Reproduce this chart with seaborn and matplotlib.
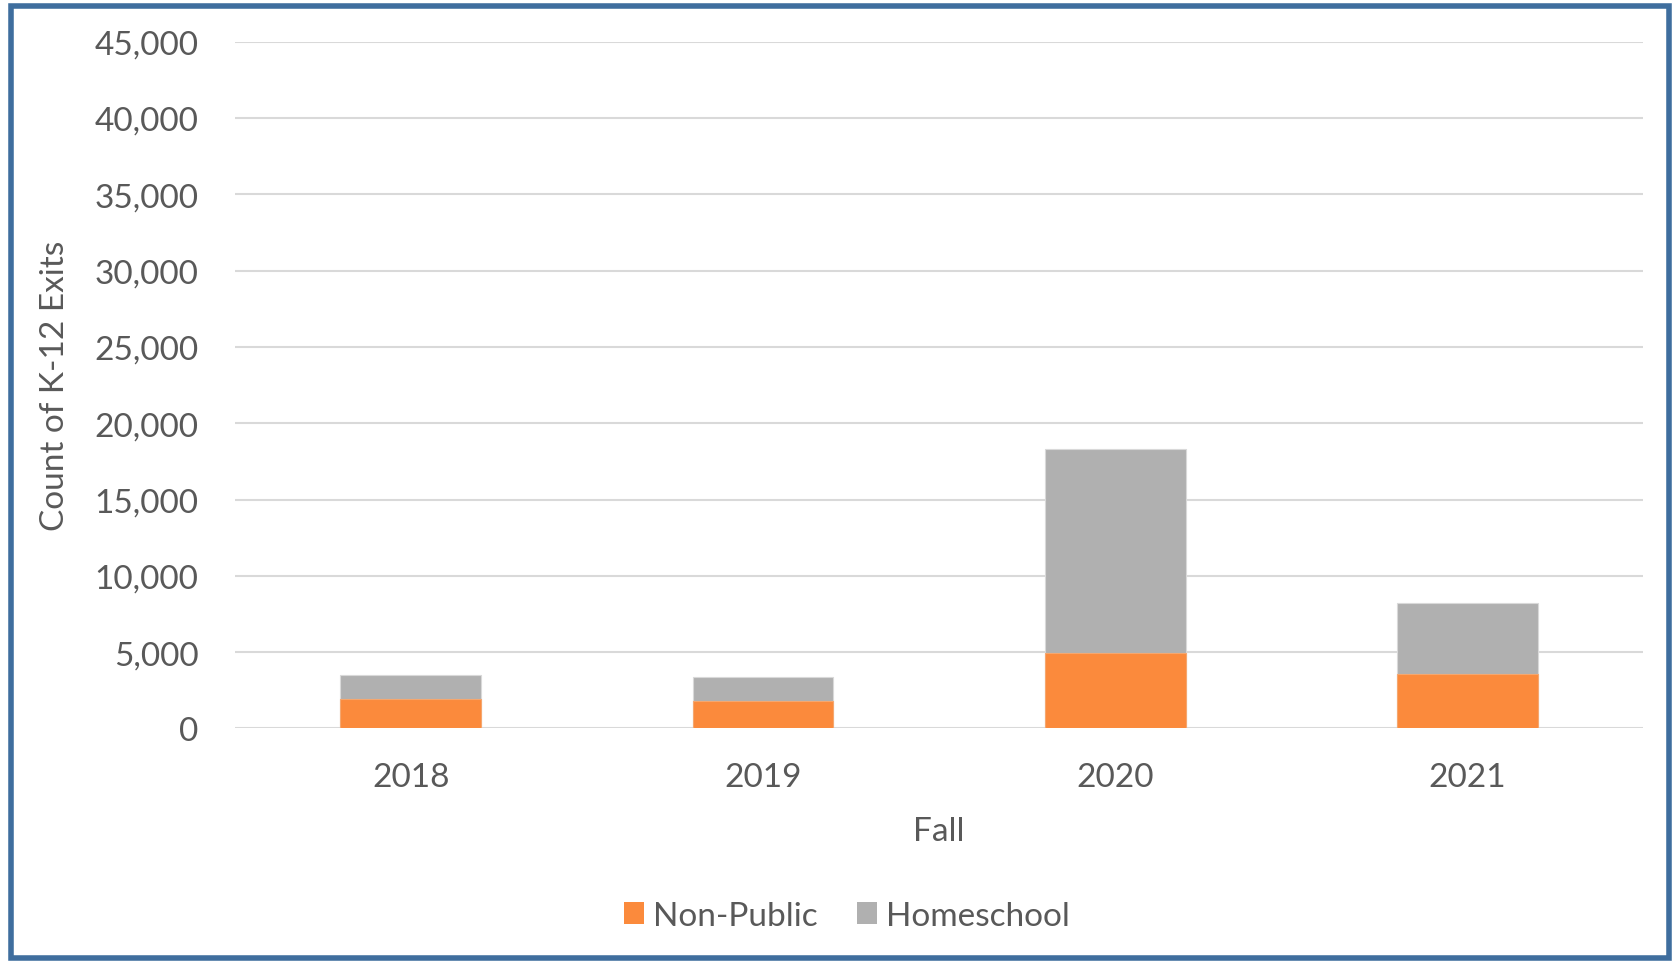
import matplotlib
matplotlib.use("Agg")
import matplotlib.pyplot as plt
from matplotlib.patches import Rectangle, Patch
from matplotlib.ticker import FuncFormatter
import numpy as np
import pandas as pd
import seaborn as sns

# 数据
years = ["2018", "2019", "2020", "2021"]
non_public = [1900, 1800, 4950, 3600]
homeschool = [1600, 1550, 13350, 4600]

orange = "#FB8A3C"
gray = "#B0B0B0"
text_color = "#595959"

sns.set_theme(style="white")
plt.rcParams['font.family'] = ['Lato', 'DejaVu Sans']

df = pd.DataFrame({"Fall": years, "Non-Public": non_public, "Homeschool": homeschool})
df["Total"] = df["Non-Public"] + df["Homeschool"]

fig = plt.figure(figsize=(16.77, 9.62), dpi=100)
ax = fig.add_axes([0.140, 0.2417, 0.840, 0.714])

# 堆叠柱状图：先画总数（灰），再画底部（橙）
sns.barplot(data=df, x="Fall", y="Total", color=gray, width=0.40, saturation=1,
            edgecolor="#D9D9D9", linewidth=0.8, ax=ax, zorder=3)
sns.barplot(data=df, x="Fall", y="Non-Public", color=orange, width=0.40, saturation=1,
            edgecolor="#F5A76F", linewidth=0.8, ax=ax, zorder=4)

ax.set_ylim(0, 45000)
ax.set_yticks(np.arange(0, 45001, 5000))
ax.yaxis.set_major_formatter(FuncFormatter(lambda v, _: f"{int(v):,}"))
ax.grid(axis="y", color="#D9D9D9", linewidth=1.5, zorder=0)
ax.set_axisbelow(True)
for s in ax.spines.values():
    s.set_visible(False)

ax.tick_params(axis="both", length=0, labelsize=24, labelcolor=text_color)
ax.tick_params(axis="y", pad=26)
ax.tick_params(axis="x", pad=24)

ax.set_ylabel("Count of K-12 Exits", fontsize=24, color=text_color)
ax.yaxis.set_label_coords(-0.117, 0.5)
ax.set_xlabel("Fall", fontsize=24, color=text_color)
ax.xaxis.set_label_coords(0.5, -0.128)

handles = [Patch(facecolor=orange, edgecolor="none", label="Non-Public"),
           Patch(facecolor=gray, edgecolor="none", label="Homeschool")]
fig.legend(handles=handles, loc="center", bbox_to_anchor=(0.505, 0.047), ncol=2,
           frameon=False, fontsize=24, labelcolor=text_color,
           handlelength=0.6, handleheight=0.6, handletextpad=0.25, columnspacing=1.2)

# 外框
fig.patches.append(Rectangle((0.0063, 0.0035), 0.9887, 0.9895, transform=fig.transFigure,
                             fill=False, edgecolor="#3F6E9E", linewidth=4, zorder=10))

fig.savefig("out.png", dpi=100)
